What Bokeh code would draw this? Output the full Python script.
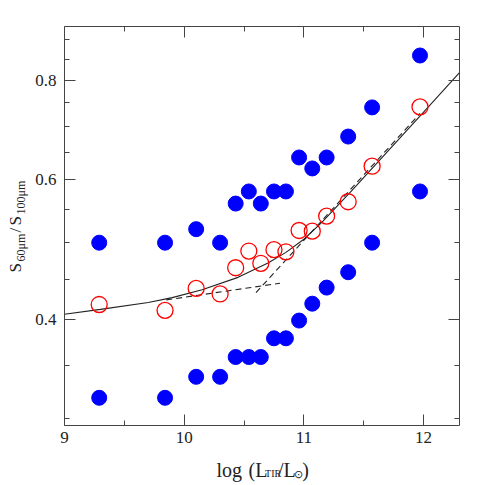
import numpy as np
from bokeh.plotting import figure
from bokeh.layouts import row, column
from bokeh.models import Range1d, LogAxis, LinearAxis, FixedTicker, PrintfTickFormatter, Label
from bokeh.embed import file_html
from bokeh.resources import INLINE

# ---- data ----
log_ltir = [9.29, 9.84, 10.10, 10.30, 10.43, 10.54, 10.64, 10.75, 10.85, 10.96, 11.07, 11.19, 11.37, 11.57, 11.97]
ratio_upper = [0.50, 0.50, 0.52, 0.50, 0.56, 0.58, 0.56, 0.58, 0.58, 0.64, 0.62, 0.64, 0.68, 0.74, 0.86]
ratio_median = [0.418, 0.411, 0.438, 0.431, 0.465, 0.488, 0.471, 0.490, 0.487, 0.518, 0.517, 0.540, 0.563, 0.624, 0.741]
ratio_lower = [0.319, 0.319, 0.339, 0.339, 0.359, 0.359, 0.359, 0.379, 0.379, 0.399, 0.419, 0.439, 0.459, 0.50, 0.58]

fit_x = [9.0, 9.3, 9.7, 9.9, 10.15, 10.45, 10.7, 10.85, 11.0, 11.15, 11.4, 11.7, 12.0, 12.3]
fit_y = [0.4064, 0.4121, 0.4205, 0.4264, 0.4363, 0.4522, 0.4713, 0.4862, 0.5050, 0.5302, 0.5813, 0.6515, 0.7300, 0.8182]

low_fit_x = [9.85, 10.8]
low_fit_y = [0.4236, 0.4446]
high_fit_x = [10.6, 11.97]
high_fit_y = [0.4327, 0.727]

x_major = [9, 10, 11, 12]
x_minor = [9.5, 10.5, 11.5]
y_major = [0.4, 0.6, 0.8]
y_minor = [0.30, 0.35, 0.45, 0.50, 0.55, 0.65, 0.70, 0.75, 0.85, 0.90]

AX = "#444444"
TXT = "#222222"
FONT = "Liberation Serif"

LEFT_W = 30
MAIN_W = 455
MAIN_H = 450
BOTTOM_H = 35

p = figure(width=MAIN_W, height=MAIN_H, output_backend="svg", toolbar_location=None,
           x_range=Range1d(9, 12.3), y_range=Range1d(0.2944, 0.9354), y_axis_type="log",
           min_border_left=34, min_border_right=26, min_border_top=26, min_border_bottom=25)
p.grid.visible = False
p.outline_line_color = None

p.add_layout(LinearAxis(), "above")
p.add_layout(LogAxis(), "right")

for ax in p.xaxis:
    ax.ticker = FixedTicker(ticks=x_major, minor_ticks=x_minor)
for ax in p.yaxis:
    ax.ticker = FixedTicker(ticks=y_major, minor_ticks=y_minor)
    ax.formatter = PrintfTickFormatter(format="%.1f")

for ax in list(p.xaxis) + list(p.yaxis):
    ax.major_tick_in = 11
    ax.major_tick_out = 0
    ax.minor_tick_in = 5
    ax.minor_tick_out = 0
    ax.axis_line_color = AX
    ax.major_tick_line_color = AX
    ax.minor_tick_line_color = AX
    ax.axis_line_width = 1
    ax.major_label_text_font = FONT
    ax.major_label_text_font_size = "17px"
    ax.major_label_text_color = TXT

p.below[0].major_label_standoff = 6
p.left[0].major_label_standoff = 8
for ax in (p.above[0], p.right[0]):
    ax.major_label_text_color = None
    ax.major_label_standoff = 0
    ax.major_label_text_font_size = "10px"

# lines
p.line(fit_x, fit_y, line_color=TXT, line_width=1.1)
p.line(low_fit_x, low_fit_y, line_color=TXT, line_width=1.1, line_dash="6 4")
p.line(high_fit_x, high_fit_y, line_color=TXT, line_width=1.1, line_dash="6 4")

# points
p.scatter(log_ltir, ratio_upper, size=15, fill_color="#0000ff", line_color="#0000ff")
p.scatter(log_ltir, ratio_lower, size=15, fill_color="#0000ff", line_color="#0000ff")
p.scatter(log_ltir, ratio_median, size=16, fill_color=None, line_color="#ff0000", line_width=1.3)


def blank(w, h):
    f = figure(width=w, height=h, output_backend="svg", toolbar_location=None,
               x_range=Range1d(0, w), y_range=Range1d(0, h),
               x_axis_location=None, y_axis_location=None, min_border=0)
    f.grid.visible = False
    f.outline_line_color = None
    return f


def lab(f, text, x, y, size, angle=0.0):
    f.add_layout(Label(x=x, y=y, text=text, angle=angle, text_font=FONT,
                       text_font_size=size, text_color=TXT,
                       text_align="left", text_baseline="alphabetic"))


# y-axis title:  S_{60um}/S_{100um}
yl = blank(LEFT_W, MAIN_H)
a = np.pi / 2
lab(yl, "S", 15, 178, "17px", a)
lab(yl, "60\u03bcm", 20, 189, "12px", a)
lab(yl, "/", 15, 218, "17px", a)
lab(yl, "S", 15, 225, "17px", a)
lab(yl, "100\u03bcm", 20, 236, "12px", a)

# x-axis title:  log (L_TIR/L_sun)
xl = blank(MAIN_W, BOTTOM_H)
lab(xl, "log", 175, 16, "20px")
lab(xl, "(L", 212, 16, "20px")
lab(xl, "TIR", 231, 12, "10px")
lab(xl, "/L", 246, 16, "20px")
lab(xl, "\u2299", 264, 12, "11px")
lab(xl, ")", 274, 16, "20px")

layout = row(yl, column(p, xl, spacing=0), spacing=0)

open("out.html", "w").write(file_html(layout, INLINE))
